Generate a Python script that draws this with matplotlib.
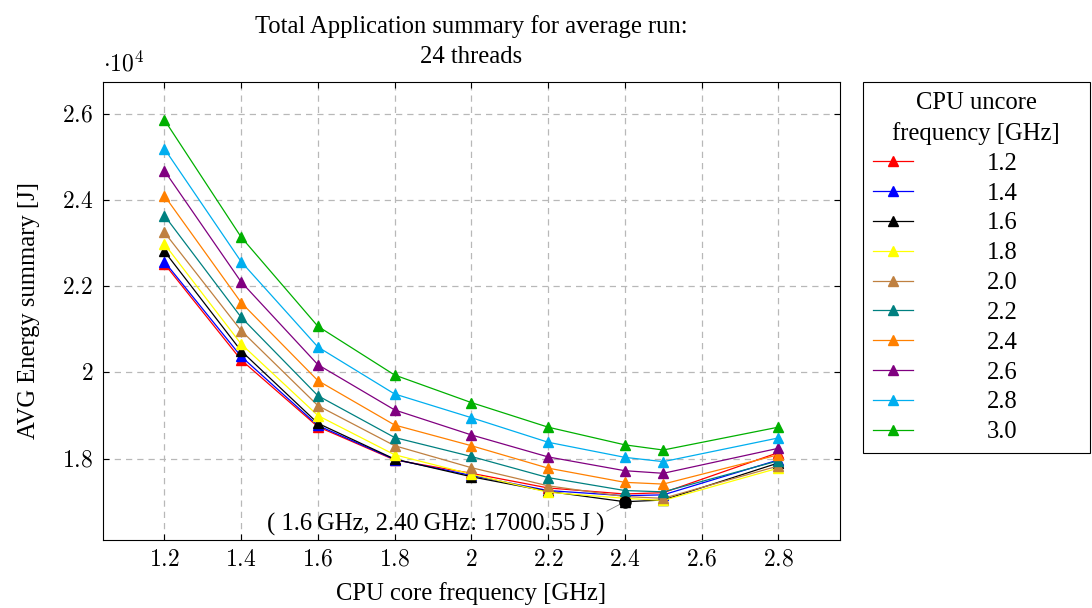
import matplotlib
matplotlib.use('Agg')
import matplotlib.pyplot as plt
from matplotlib.ticker import FixedLocator, FuncFormatter

# -------------------------------
# Data (energy in J)
# -------------------------------

core_freq = [1.2, 1.4, 1.6, 1.8, 2.0, 2.2, 2.4, 2.5, 2.8]

uncore_labels = ['1.2', '1.4', '1.6', '1.8', '2.0', '2.2', '2.4', '2.6', '2.8', '3.0']

energy_u12 = [22520, 20290, 18740, 17970, 17660, 17320, 17180, 17210, 18140]
energy_u14 = [22570, 20370, 18770, 17980, 17610, 17260, 17140, 17160, 17970]
energy_u16 = [22810, 20500, 18820, 17990, 17580, 17240, 17000.55, 17040, 17900]
energy_u18 = [22980, 20660, 19000, 18090, 17640, 17220, 17080, 17030, 17780]
energy_u20 = [23250, 20970, 19230, 18300, 17790, 17370, 17120, 17080, 17830]
energy_u22 = [23640, 21280, 19460, 18490, 18050, 17560, 17260, 17230, 17950]
energy_u24 = [24100, 21620, 19810, 18780, 18300, 17780, 17450, 17410, 18090]
energy_u26 = [24680, 22100, 20180, 19130, 18550, 18040, 17720, 17660, 18240]
energy_u28 = [25190, 22570, 20590, 19500, 18950, 18380, 18030, 17930, 18480]
energy_u30 = [25860, 23140, 21070, 19940, 19300, 18730, 18320, 18200, 18730]

series = [energy_u12, energy_u14, energy_u16, energy_u18, energy_u20,
          energy_u22, energy_u24, energy_u26, energy_u28, energy_u30]

colors = ['#ff0000', '#0000ff', '#000000', '#ffff00', '#bf8040',
          '#008080', '#ff8000', '#800080', '#00aeef', '#00b000']

min_core, min_energy = 2.4, 17000.55

# -------------------------------
# Style
# -------------------------------

plt.rcParams['font.family'] = ['Liberation Serif', 'DejaVu Serif']
plt.rcParams['mathtext.fontset'] = 'cm'
fs = 17.7

fig = plt.figure(figsize=(10.92, 6.08), dpi=100)
ax = fig.add_axes([0.0943, 0.112, 0.6747, 0.753])

for values, color, label in zip(series, colors, uncore_labels):
    ax.plot(core_freq, values, color=color, lw=0.9, marker='^',
            markersize=6.5, label=label)

# minimum point with annotation
ax.plot([min_core], [min_energy], 'o', color='black', markersize=8, zorder=5)
ax.annotate('( 1.6\u2009GHz, 2.40\u2009GHz: 17000.55\u2009J )',
            xy=(min_core, min_energy), xytext=(1.906, 16480),
            ha='center', va='center', fontsize=fs,
            arrowprops=dict(arrowstyle='-', color='#808080', lw=0.6,
                            relpos=(1.0, 1.0), shrinkA=0, shrinkB=4))

# -------------------------------
# Axes
# -------------------------------

ax.set_xlim(1.04, 2.96)
ax.set_ylim(16115, 26735)

ax.xaxis.set_major_locator(FixedLocator([1.2, 1.4, 1.6, 1.8, 2.0, 2.2, 2.4, 2.6, 2.8]))
ax.yaxis.set_major_locator(FixedLocator([18000, 20000, 22000, 24000, 26000]))
ax.xaxis.set_major_formatter(FuncFormatter(lambda v, p: r'$%g$' % round(v, 1)))
ax.yaxis.set_major_formatter(FuncFormatter(lambda v, p: r'$%g$' % (v / 1e4)))

ax.tick_params(direction='in', top=True, right=True, length=4,
               labelsize=17, pad=7)
ax.grid(True, linestyle=(0, (5, 4)), color='#b8b8b8', lw=0.9)
ax.set_axisbelow(True)

ax.text(0.0, 1.012, r'$\cdot 10^4$', transform=ax.transAxes,
        fontsize=17, ha='left', va='bottom')

ax.set_xlabel('CPU core frequency [GHz]', fontsize=fs, labelpad=8)
ax.set_ylabel('AVG Energy summary [J]', fontsize=fs, labelpad=16)
ax.set_title('Total Application summary for average run:\n24 threads',
             fontsize=fs, pad=14, linespacing=1.45)

leg = ax.legend(loc='upper left', bbox_to_anchor=(1.0312, 0.0, 0.308, 1.0),
                mode='expand', alignment='center',
                title='CPU uncore\nfrequency [GHz]', fontsize=fs,
                title_fontsize=fs, frameon=True, fancybox=False,
                edgecolor='black', framealpha=1, borderaxespad=0,
                handlelength=1.65, handletextpad=3.0, labelspacing=0.31,
                borderpad=0.4)
leg.get_frame().set_linewidth(0.8)
leg.get_title().set_linespacing(1.45)
leg.get_title().set_multialignment('center')

plt.savefig('out.png', dpi=100)
